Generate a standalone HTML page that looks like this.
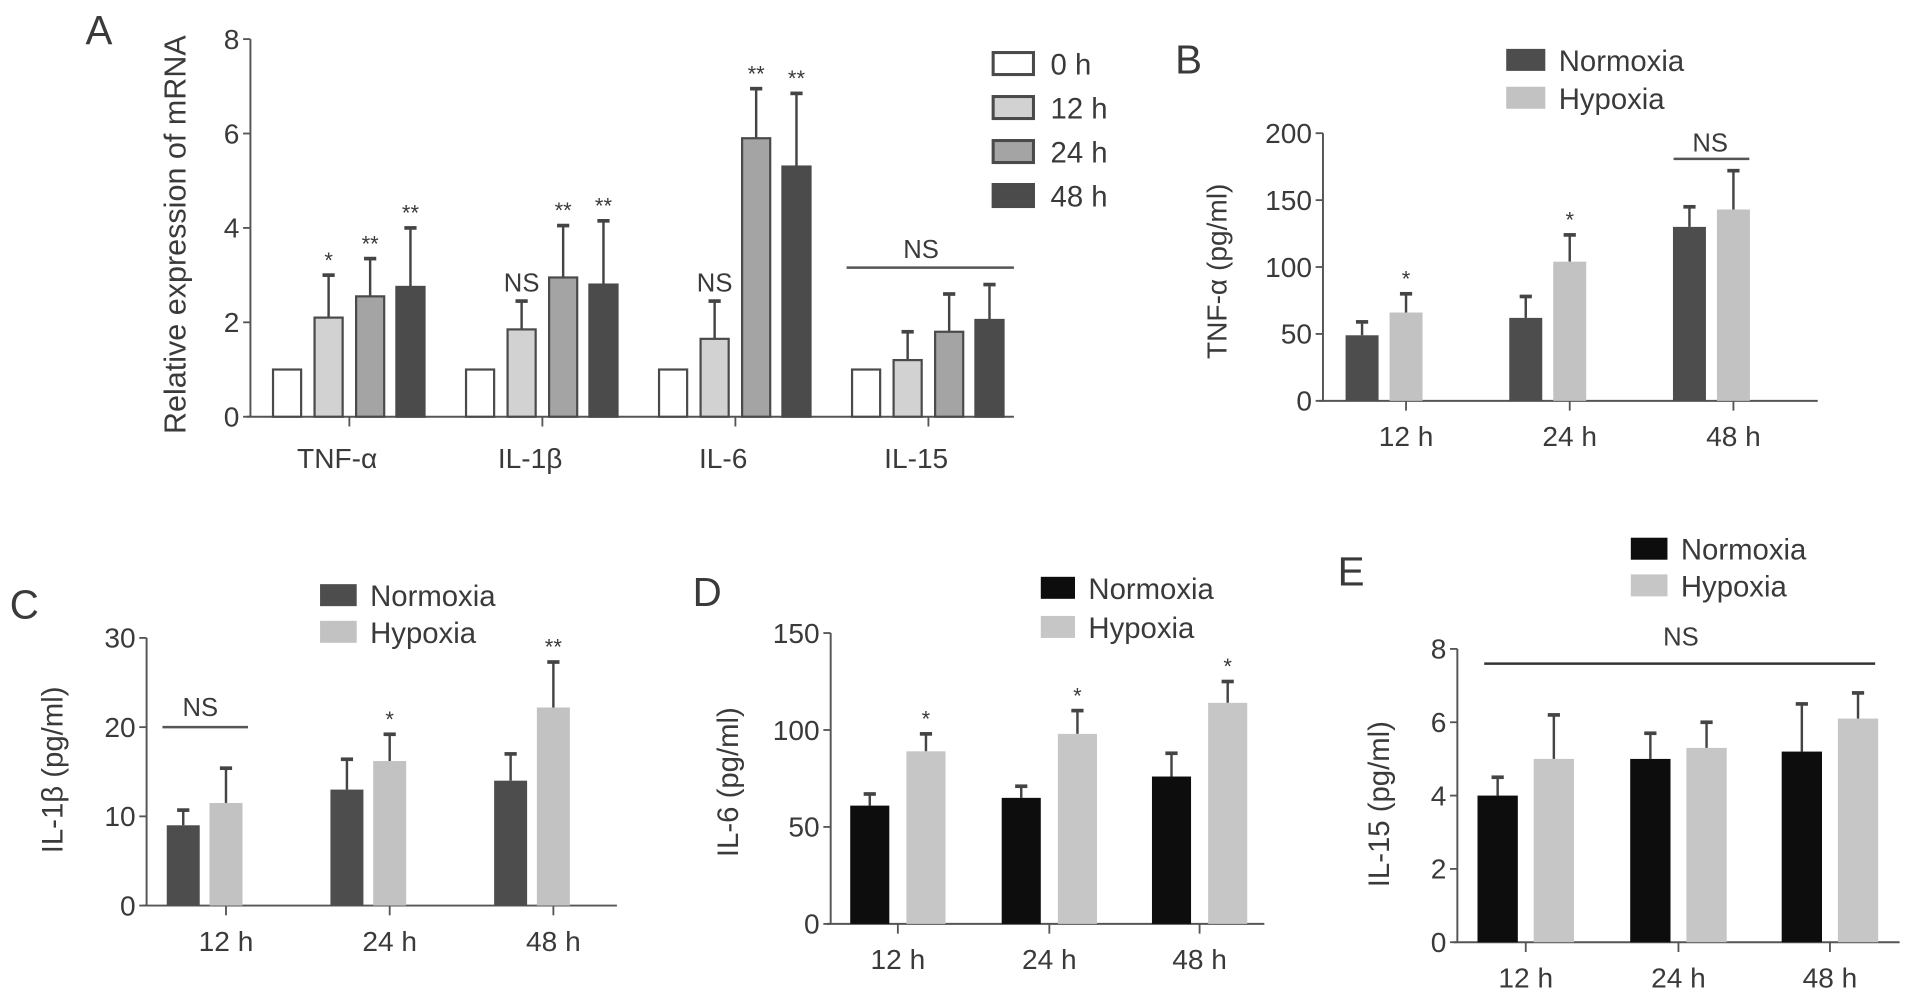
<!DOCTYPE html>
<html><head><meta charset="utf-8">
<style>
html,body{margin:0;padding:0;background:#fff;}
svg{display:block;}
text{font-family:"Liberation Sans",sans-serif;fill:#3a3a3a;}
</style></head>
<body>
<svg id="fig" width="1913" height="996" viewBox="0 0 1566 815" preserveAspectRatio="none" xmlns="http://www.w3.org/2000/svg">
</svg>
<script>
// Panel A data
const aCategories = ["TNF-\u03b1", "IL-1\u03b2", "IL-6", "IL-15"];
const aSeriesNames = ["0 h", "12 h", "24 h", "48 h"];
const aMeans = [[1,1,1,1],[2.1,1.85,1.65,1.2],[2.55,2.95,5.9,1.8],[2.75,2.8,5.3,2.05]];
const aErrTops = [[1,1,1,1],[3.0,2.45,2.45,1.8],[3.35,4.05,6.95,2.6],[4.0,4.15,6.85,2.8]];
const aSig = [["","","",""],["*","NS","NS",""],["**","**","**",""],["**","**","**",""]];
const aTicks = [0,2,4,6,8];
// Panel B data
const bCategories = ["12 h","24 h","48 h"];
const bNormoxia = [49,62,130];
const bNormoxiaErr = [59,78,145];
const bHypoxia = [66,104,143];
const bHypoxiaErr = [80,124,172];
const bTicks = [0,50,100,150,200];
// Panel C data
const cNormoxia = [9,13,14];
const cNormoxiaErr = [10.7,16.4,17];
const cHypoxia = [11.5,16.2,22.2];
const cHypoxiaErr = [15.4,19.2,27.3];
const cTicks = [0,10,20,30];
// Panel D data
const dNormoxia = [61,65,76];
const dNormoxiaErr = [67,71,88];
const dHypoxia = [89,98,114];
const dHypoxiaErr = [98,110,125];
const dTicks = [0,50,100,150];
// Panel E data
const eNormoxia = [4.0,5.0,5.2];
const eNormoxiaErr = [4.5,5.7,6.5];
const eHypoxia = [5.0,5.3,6.1];
const eHypoxiaErr = [6.2,6.0,6.8];
const eTicks = [0,2,4,6,8];

const NS="http://www.w3.org/2000/svg";
const svg=document.getElementById('fig');
function mk(tag,attrs,parent){const e=document.createElementNS(NS,tag);for(const k in attrs)e.setAttribute(k,attrs[k]);(parent||svg).appendChild(e);return e;}
function txt(s,x,y,size,anchor,parent){const t=mk('text',{x:x,y:y,'font-size':size,'text-anchor':anchor||'middle'},parent);t.textContent=s;return t;}
const AX='#555';

function axes(g,x0,y0,y1,xEnd,ticks,ymax,fs,yscale){
  const a=mk('line',{x1:x0,y1:y0,x2:x0,y2:y1,stroke:AX,'stroke-width':1.6},g);
  
  
  const b=mk('line',{x1:x0-3,y1:y0,x2:xEnd,y2:y0,stroke:AX,'stroke-width':1.6},g);
  
  
  ticks.forEach(v=>{const y=yscale(v);mk('line',{x1:x0-6,y1:y,x2:x0,y2:y,stroke:AX,'stroke-width':1.5},g);
    const t=txt(String(v),x0-9,y+8,fs,'end',g);
    
    });
}
function bar(g,cx,w,v,err,ys,fill,stroke,name){
  const y0=ys(0),y=ys(v);
  if(err!==undefined&&err>v){mk('line',{x1:cx,y1:y,x2:cx,y2:ys(err),stroke:'#444','stroke-width':2},g);
    mk('line',{x1:cx-5,y1:ys(err),x2:cx+5,y2:ys(err),stroke:'#444','stroke-width':3},g);}
  const r=mk('rect',{x:cx-w/2,y:y,width:w,height:y0-y,fill:fill,stroke:stroke||'none','stroke-width':stroke?1.8:0},g);
  
  
  return r;
}
function ylabel(g,s,x,y,fs){const t=mk('text',{x:x,y:y,'font-size':fs,'text-anchor':'middle',transform:'rotate(-90 '+x+' '+y+')'},g);t.textContent=s;
  
  }
function panelLabel(s,x,y){const t=txt(s,x,y,33,'start');
  
  }
function legend2(g,x,y1,y2,w,h,c1,c2,fs){
  [[y1,c1,'Normoxia'],[y2,c2,'Hypoxia']].forEach(([y,c,s])=>{
    const r=mk('rect',{x:x,y:y,width:w,height:h,fill:c},g);
    
    
    const t=txt(s,x+w+11,y+h/2+9,fs,'start',g);
    
    });
}
function star(g,s,x,y,fs){const t=txt(s,x,y,fs,'middle',g);
  
  }

// ---- Panel A
(function(){
  const g=mk('g',{});
  const x0=205,y0=341,ytop=32;const ys=v=>y0-(v/8)*(y0-ytop);
  axes(g,x0,y0,ytop,830,aTicks,8,23,ys);
  const gx=[286,444,602,760];const off=[-51,-17,17,50];
  const fills=['#ffffff','#d2d2d2','#a4a4a4','#4b4b4b'];
  aCategories.forEach((c,i)=>{
    mk('line',{x1:gx[i],y1:y0,x2:gx[i],y2:y0+8,stroke:AX,'stroke-width':1.5},g);
    const t=txt(c,gx[i]-10,y0+42,23,'middle',g);
    aSeriesNames.forEach((s,j)=>{
      bar(g,gx[i]+off[j],23,aMeans[j][i],aErrTops[j][i],ys,fills[j],'#4a4a4a','bar-'+c+'-'+s.replace(' ',''));
      if(aSig[j][i]){const sz=aSig[j][i]==='NS'?21:18;star(g,aSig[j][i],gx[i]+off[j],ys(aErrTops[j][i])-(aSig[j][i]==='NS'?8:6),sz);}
    });
  });
  mk('line',{x1:693,y1:219,x2:830,y2:219,stroke:'#555','stroke-width':2},g);
  star(g,'NS',754,211,21);
  ylabel(g,'Relative expression of mRNA',152,192,25);
  aSeriesNames.forEach((s,j)=>{
    const y=43+j*36;
    const r=mk('rect',{x:813,y:y,width:33,height:18,fill:fills[j],stroke:'#4a4a4a','stroke-width':2.5},g);
    
    const t=txt(s,860,y+18,24,'start',g);
  });
})();
panelLabel('A',70,36);

// generic two-series panel
function twoPanel(name,x0,y0,ytop,ymax,xEnd,ticks,ticksx,offN,offH,w,N,Ne,H,He,cN,cH,fsT,fsX){
  const g=mk('g',{});
  const ys=v=>y0-(v/ymax)*(y0-ytop);
  axes(g,x0,y0,ytop,xEnd,ticks,ymax,fsT,ys);
  bCategories.forEach((c,i)=>{
    mk('line',{x1:ticksx[i],y1:y0,x2:ticksx[i],y2:y0+8,stroke:AX,'stroke-width':1.5},g);
    const t=txt(c,ticksx[i],y0+37,fsX,'middle',g);
    bar(g,ticksx[i]+offN,w,N[i],Ne[i],ys,cN,null,'bar-normoxia-'+c.replace(' ',''));
    bar(g,ticksx[i]+offH,w,H[i],He[i],ys,cH,null,'bar-hypoxia-'+c.replace(' ',''));
  });
  return {g,ys};
}

// ---- Panel B
(function(){
  const p=twoPanel('panel-b',1083,328,109,200,1488,bTicks,[1151,1285,1419],-36,0,27,bNormoxia,bNormoxiaErr,bHypoxia,bHypoxiaErr,'#4d4d4d','#c2c2c2',23,23);
  star(p.g,'*',1151,p.ys(bHypoxiaErr[0])-6,18);
  star(p.g,'*',1285,p.ys(bHypoxiaErr[1])-6,18);
  mk('line',{x1:1370,y1:130,x2:1432,y2:130,stroke:'#555','stroke-width':2},p.g);
  star(p.g,'NS',1400,124,21);
  ylabel(p.g,'TNF-\u03b1 (pg/ml)',1004,222,23);
  legend2(p.g,1233,40,71,32,18,'#4d4d4d','#c2c2c2',24);
})();
panelLabel('B',962,60);

// ---- Panel C
(function(){
  const p=twoPanel('panel-c',120,741,522,30,505,cTicks,[185,319,453],-35,0,27,cNormoxia,cNormoxiaErr,cHypoxia,cHypoxiaErr,'#4d4d4d','#c2c2c2',23,23);
  mk('line',{x1:133,y1:595,x2:203,y2:595,stroke:'#555','stroke-width':2},p.g);
  star(p.g,'NS',164,586,21);
  star(p.g,'*',319,p.ys(cHypoxiaErr[1])-6,18);
  star(p.g,'**',453,p.ys(cHypoxiaErr[2])-6,18);
  ylabel(p.g,'IL-1\u03b2 (pg/ml)',51,630,24);
  legend2(p.g,262,478,508,30,18,'#4d4d4d','#c2c2c2',24);
})();
panelLabel('C',8,506);

// ---- Panel D
(function(){
  const p=twoPanel('panel-d',680,756,518,150,1035,dTicks,[735,859,982],-23,23,32,dNormoxia,dNormoxiaErr,dHypoxia,dHypoxiaErr,'#0d0d0d','#c6c6c6',23,23);
  for(let i=0;i<3;i++){star(p.g,'*',[735,859,982][i]+23,p.ys(dHypoxiaErr[i])-6,18);}
  ylabel(p.g,'IL-6 (pg/ml)',604,640,24);
  legend2(p.g,852,472,504,28,18,'#0d0d0d','#c6c6c6',24);
})();
panelLabel('D',567,496);

// ---- Panel E
(function(){
  const p=twoPanel('panel-e',1193,771,531,8,1555,eTicks,[1249,1374,1498],-23,23,33,eNormoxia,eNormoxiaErr,eHypoxia,eHypoxiaErr,'#0d0d0d','#c6c6c6',23,23);
  mk('line',{x1:1215,y1:543,x2:1535,y2:543,stroke:'#333','stroke-width':2},p.g);
  star(p.g,'NS',1376,528,21);
  ylabel(p.g,'IL-15 (pg/ml)',1137,658,24);
  legend2(p.g,1335,440,470,30,18,'#0d0d0d','#c6c6c6',24);
})();
panelLabel('E',1095,479);
</script>
</body></html>
